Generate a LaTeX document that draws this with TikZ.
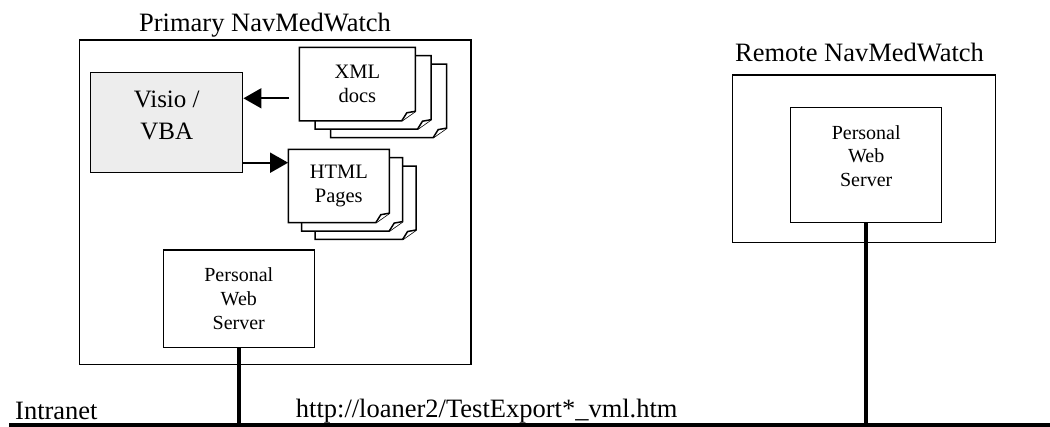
\documentclass[tikz,border=0pt]{standalone}
\usepackage{fontspec}
\setmainfont{Liberation Serif}
\usetikzlibrary{arrows.meta}
\newcommand\fTitle{\fontsize{26.5}{32}\selectfont}
\newcommand\fVisio{\fontsize{25}{31.7}\selectfont}
\newcommand\fDoc{\fontsize{20.5}{23.3}\selectfont}
\newcommand\fPws{\fontsize{20}{23.7}\selectfont}
\tikzset{
  pageline/.style={draw, line width=1.5pt, fill=white, line join=miter},
  pagepic/.pic={
    \path[pageline] (0,0) -- (\pw,0) -- (\pw,\ph-9.5) -- (\pw-13.5,\ph) -- (0,\ph) -- cycle;
    \path[pageline] (\pw-13.5,\ph) .. controls (\pw-10.5,\ph-4) .. (\pw-8.5,\ph-8) -- (\pw,\ph-9.5);
  }
}
\begin{document}
\begin{tikzpicture}[x=1pt,y=-1pt,
  box/.style={draw, line width=1.5pt, rectangle, inner sep=0pt},
  pagenode/.style={rectangle, inner sep=0pt, align=center, font=\fDoc},
  arrowline/.style={line width=1.8pt, -{Triangle[length=18pt,width=20pt]}},
  link/.style={line width=4.5pt},
  netline/.style={line width=4pt}]
\useasboundingbox (0,0) rectangle (1050,427);

% Primary NavMedWatch
\node[box, minimum width=391.5pt, minimum height=324.3pt] (primary) at (275.25,202.15) {};
\node[anchor=base, font=\fTitle] (ptitle) at (265,31.7) {Primary NavMedWatch};

% Visio / VBA
\node[box, fill=black!7, minimum width=152pt, minimum height=100pt] (visio) at (166.7,122.7) {};
\node[align=center, inner sep=0pt, font=\fVisio] (visiotext) at (166.7,115.5) {Visio /\\VBA};

% XML docs stack
\def\pw{116}\def\ph{73.5}
\pic at (330.7,64.1) {pagepic};
\pic at (315,55.7) {pagepic};
\pic at (299.3,47.3) {pagepic};
\node[pagenode, minimum width=116pt, minimum height=73.5pt] (xml) at (357.3,84) {XML\\docs};

% HTML pages stack
\def\pw{101}\def\ph{73.4}
\pic at (315.1,166.1) {pagepic};
\pic at (301.7,157.7) {pagepic};
\pic at (288.3,149.3) {pagepic};
\node[pagenode, minimum width=101pt, minimum height=73.4pt] (html) at (338.8,186) {HTML\\Pages};

% arrows
\coordinate (xmlsrc) at (289,98.3);
\draw[arrowline] (xmlsrc) -- (xmlsrc -| visio.east);
\coordinate (visiosrc) at (242.7,162.7);
\draw[arrowline] (visiosrc) -- (visiosrc -| html.west);

% Primary personal web server
\node[box, align=center, font=\fPws, minimum width=151pt, minimum height=97.3pt] (pws1) at (238.8,298.7) {Personal\\Web\\Server};

% Remote NavMedWatch
\node[box, minimum width=263.4pt, minimum height=167.3pt] (remote) at (864,158.65) {};
\node[anchor=base, font=\fTitle] (rtitle) at (859.5,61.7) {Remote NavMedWatch};
\node[box, minimum width=151pt, minimum height=114.6pt] (pws2) at (866.2,165) {};
\node[align=center, inner sep=0pt, font=\fPws] (pws2text) at (866.2,156) {Personal\\Web\\Server};

% Intranet
\coordinate (netL) at (9,425);
\coordinate (netR) at (1052,425);
\node[anchor=base west, inner sep=0pt, font=\fTitle] (intranet) at (15,420) {Intranet};
\node[anchor=base west, inner sep=0pt, font=\fTitle] (url) at (295.7,418) {http://loaner2/TestExport*\_vml.htm};
\draw[netline] (netL) -- (netR);

\draw[link] (pws1.south) -- (pws1.south |- netL);
\draw[link] (pws2.south) -- (pws2.south |- netL);
\end{tikzpicture}
\end{document}
